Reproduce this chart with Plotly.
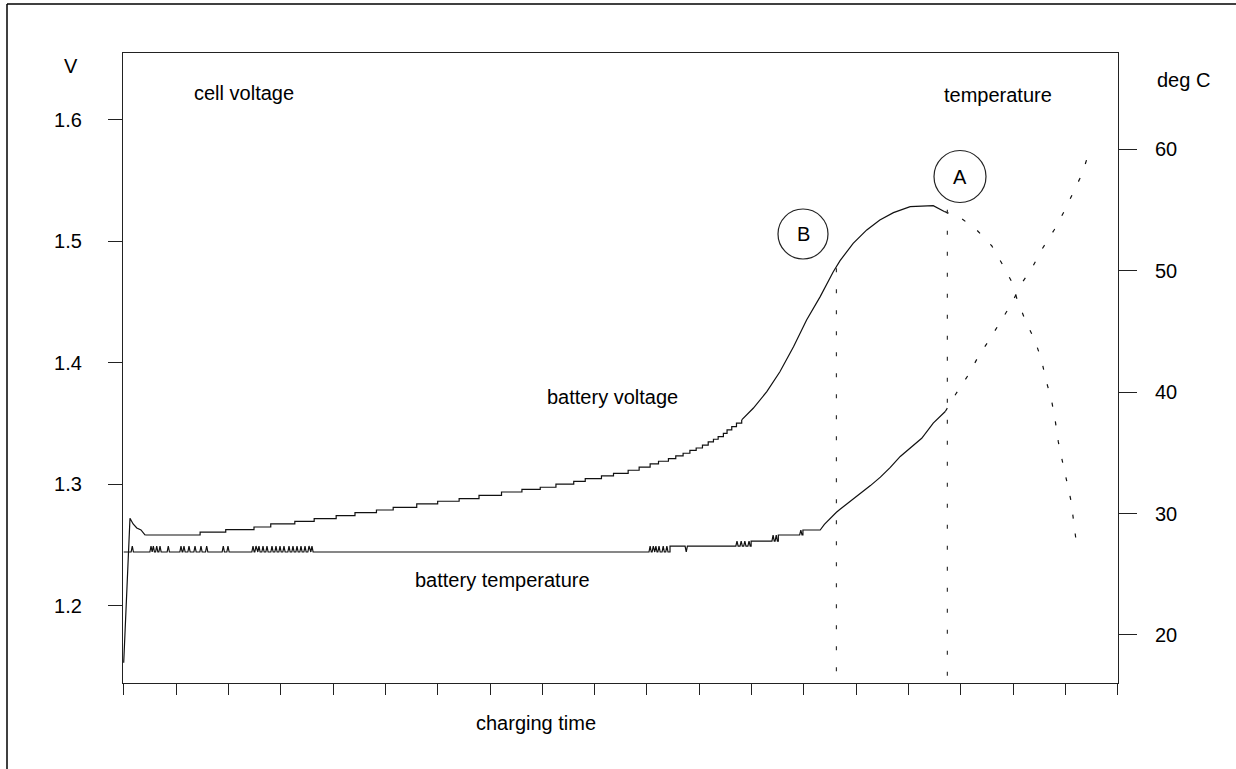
import plotly.graph_objects as go

# ---------------- data (charging time in tick units) ----------------
volt_start_t = [0.0, 0.12, 0.18, 0.25, 0.33, 0.41]
volt_start_v = [1.1533, 1.2722, 1.2675, 1.2642, 1.2626, 1.2584]

volt_step_t = [0.41, 1.46, 1.95, 2.49, 2.81, 3.27, 3.64, 4.06, 4.42, 4.83,
               5.15, 5.60, 6.00, 6.41, 6.79, 7.22, 7.61, 7.96, 8.26, 8.60,
               8.82, 9.13, 9.36, 9.64, 9.85, 10.06, 10.22, 10.41, 10.55, 10.69,
               10.82, 10.94, 11.06, 11.17, 11.27, 11.36, 11.46, 11.53, 11.62, 11.71,
               11.81]
volt_step_v = [1.2584, 1.2607, 1.2628, 1.2650, 1.2675, 1.2697, 1.2719, 1.2743, 1.2768, 1.2790,
               1.2812, 1.2840, 1.2862, 1.2883, 1.2911, 1.2938, 1.2960, 1.2977, 1.3002, 1.3026,
               1.3048, 1.3070, 1.3092, 1.3117, 1.3142, 1.3169, 1.3191, 1.3212, 1.3235, 1.3257,
               1.3281, 1.3300, 1.3323, 1.3350, 1.3372, 1.3393, 1.3421, 1.3449, 1.3476, 1.3504,
               1.3531]

volt_rise_t = [11.81, 12.03, 12.29, 12.54, 12.80, 13.05, 13.31, 13.56, 13.69, 13.94,
               14.20, 14.45, 14.71, 15.03, 15.47, 15.69]
volt_rise_v = [1.3531, 1.3627, 1.3764, 1.3928, 1.4134, 1.4354, 1.4546, 1.4751, 1.4842, 1.4985,
               1.5095, 1.5177, 1.5237, 1.5286, 1.5295, 1.5245]

volt_decline_t = [15.69, 15.98, 16.30, 16.59, 16.78, 16.97, 17.08, 17.24, 17.41, 17.54,
                  17.62, 17.73, 17.80, 17.86, 17.94, 18.02, 18.10, 18.15, 18.21]
volt_decline_v = [1.5245, 1.5199, 1.5095, 1.4963, 1.4821, 1.4669, 1.4513, 1.4340, 1.4189, 1.4025,
                  1.3866, 1.3695, 1.3531, 1.3352, 1.3188, 1.3023, 1.2872, 1.2708, 1.2502]

temp_level_t = [0.0, 10.44, 11.99, 12.51, 12.98]
temp_level_v = [26.83, 27.32, 27.73, 28.23, 28.64]

temp_spike_t = [0.164, 0.522, 0.566, 0.631, 0.694, 0.852, 1.095, 1.152, 1.248, 1.363,
                1.477, 1.586, 1.903, 1.993, 2.471, 2.528, 2.585, 2.662, 2.738, 2.834,
                2.910, 2.987, 3.063, 3.159, 3.235, 3.312, 3.388, 3.465, 3.541, 3.598,
                10.06, 10.12, 10.17, 10.23, 10.31, 10.38, 10.75, 11.72, 11.80, 11.87,
                11.95, 12.41, 12.47, 12.94]
temp_spike_v = [27.32, 27.32, 27.32, 27.32, 27.32, 27.32, 27.32, 27.32, 27.32, 27.32,
                27.32, 27.32, 27.32, 27.32, 27.32, 27.32, 27.32, 27.32, 27.32, 27.32,
                27.32, 27.32, 27.32, 27.32, 27.32, 27.32, 27.32, 27.32, 27.32, 27.32,
                27.32, 27.32, 27.32, 27.32, 27.32, 27.32, 26.83, 27.73, 27.73, 27.73,
                27.73, 28.23, 28.23, 28.64]

temp_rise_t = [13.18, 13.31, 13.39, 13.50, 13.62, 13.69, 13.88, 14.07, 14.27, 14.46,
               14.65, 14.84, 15.03, 15.25, 15.47, 15.70]
temp_rise_v = [28.64, 28.64, 29.10, 29.60, 30.10, 30.35, 30.97, 31.60, 32.30, 33.00,
               33.80, 34.70, 35.40, 36.20, 37.45, 38.40]

temp_dash_t = [15.70, 15.91, 16.14, 16.33, 16.54, 16.75, 16.97, 17.14, 17.37, 17.56,
               17.78, 17.97, 18.15, 18.32, 18.43]
temp_dash_v = [38.40, 39.90, 41.41, 42.92, 44.29, 45.80, 47.31, 48.82, 50.33, 51.85,
               53.35, 54.86, 56.43, 58.02, 59.53]

marker_t = [13.62, 15.74]          # points B and A
marker_v = [1.478, 1.526]
marker_labels = ["B", "A"]

x_ticks = list(range(0, 20))
v_ticks = [1.2, 1.3, 1.4, 1.5, 1.6]
v_ticktext = ["1.2", "1.3", "1.4", "1.5", "1.6"]
t_ticks = [20, 30, 40, 50, 60]
t_ticktext = ["20", "30", "40", "50", "60"]

V_RANGE = [1.1366, 1.6551]
T_RANGE = [16.04, 67.93]
X_RANGE = [-0.0134, 19.001]

# ---------------- build temperature polyline from logged readings ----------------
events = [(t, 0, v) for t, v in zip(temp_level_t, temp_level_v)] + \
         [(t, 1, v) for t, v in zip(temp_spike_t, temp_spike_v)]
events.sort()
tt, tv = [temp_level_t[0]], [temp_level_v[0]]
cur = temp_level_v[0]
hw = 0.022
for t, kind, v in events:
    if kind == 0:
        if t == temp_level_t[0]:
            continue
        tt += [t, t]
        tv += [cur, v]
        cur = v
    else:
        tt += [t - hw, t, t + hw]
        tv += [cur, v, cur]
tt += temp_rise_t
tv += temp_rise_v

LINE = dict(color="#111111", width=1.2)
DASH = dict(color="#111111", width=1.2, dash="4px,15px")

fig = go.Figure()
fig.add_trace(go.Scatter(x=volt_start_t, y=volt_start_v, mode="lines", line=LINE, yaxis="y"))
fig.add_trace(go.Scatter(x=volt_step_t, y=volt_step_v, mode="lines", line=dict(LINE, shape="hv"), yaxis="y"))
fig.add_trace(go.Scatter(x=volt_rise_t, y=volt_rise_v, mode="lines", line=LINE, yaxis="y"))
fig.add_trace(go.Scatter(x=volt_decline_t, y=volt_decline_v, mode="lines", line=DASH, yaxis="y"))
fig.add_trace(go.Scatter(x=tt, y=tv, mode="lines", line=LINE, yaxis="y2"))
fig.add_trace(go.Scatter(x=temp_dash_t, y=temp_dash_v, mode="lines", line=DASH, yaxis="y2"))
for mt, mv in zip(marker_t, marker_v):
    fig.add_trace(go.Scatter(x=[mt, mt], y=[mv, V_RANGE[0]], mode="lines",
                             line=dict(color="#333333", width=1.2, dash="4px,17px"), yaxis="y"))

FONT = dict(family="Liberation Sans, Arial, sans-serif", size=20, color="black")

fig.update_layout(
    width=1236, height=769,
    margin=dict(l=123, r=118, t=53, b=86, pad=0),
    paper_bgcolor="white", plot_bgcolor="white",
    showlegend=False, font=FONT,
    xaxis=dict(range=X_RANGE, tickvals=x_ticks, showticklabels=False, ticks="outside",
               ticklen=11, tickwidth=1.2, tickcolor="#222", showline=True, linecolor="#222",
               linewidth=1.2, mirror=True, showgrid=False, zeroline=False),
    yaxis=dict(range=V_RANGE, tickvals=v_ticks, ticktext=v_ticktext, ticks="outside",
               ticklen=14, tickwidth=1.2, tickcolor="#222", showline=True, linecolor="#222",
               linewidth=1.2, mirror=True, showgrid=False, zeroline=False,
               ticklabelstandoff=22, tickfont=FONT),
    yaxis2=dict(range=T_RANGE, tickvals=t_ticks, ticktext=t_ticktext, overlaying="y",
                side="right", ticks="outside", ticklen=18, tickwidth=1.2, tickcolor="#222",
                showline=False, showgrid=False, zeroline=False, ticklabelstandoff=14,
                tickfont=FONT),
)

def px(x):
    return (x - 123) / 995

def py(y):
    return (683 - y) / 630

texts = [
    ("V", 71, 66, "center"),
    ("deg C", 1183, 80, "center"),
    ("cell voltage", 192, 93, "left"),
    ("temperature", 942, 95, "left"),
    ("battery voltage", 545, 397, "left"),
    ("battery temperature", 413, 580, "left"),
    ("charging time", 474, 723, "left"),
]
for s, x, y, anc in texts:
    fig.add_annotation(text=s, x=px(x), y=py(y), xref="paper", yref="paper",
                       xanchor=anc, yanchor="middle", showarrow=False, font=FONT)

# circled point labels
circles = [("B", 803, 234, 25), ("A", 960, 176.5, 26)]
for lab, cx, cy, r in circles:
    fig.add_shape(type="circle", xref="paper", yref="paper",
                  x0=px(cx - r), x1=px(cx + r), y0=py(cy + r), y1=py(cy - r),
                  line=dict(color="#222", width=1.2))
    fig.add_annotation(text=lab, x=px(cx), y=py(cy), xref="paper", yref="paper",
                       xanchor="center", yanchor="middle", showarrow=False, font=FONT)

# outer frame (left and top edges)
fig.add_shape(type="line", xref="paper", yref="paper", x0=px(7), x1=px(7), y0=py(4), y1=py(769),
              line=dict(color="black", width=1.5))
fig.add_shape(type="line", xref="paper", yref="paper", x0=px(7), x1=px(1236), y0=py(4), y1=py(4),
              line=dict(color="black", width=1.5))

fig.write_html("out.html", config={"displayModeBar": False},
               post_script="document.body.style.margin='0px';")
